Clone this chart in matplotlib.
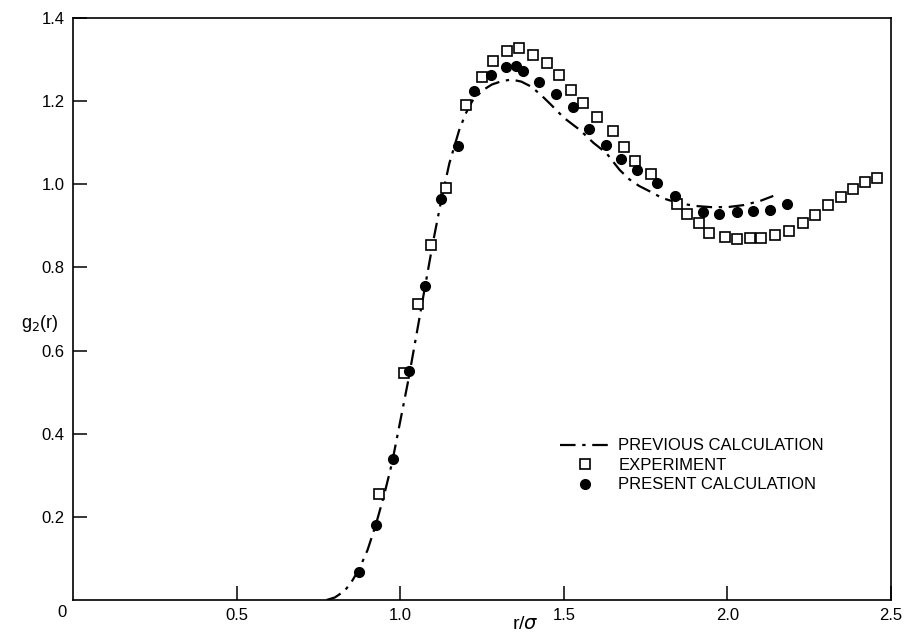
import matplotlib
matplotlib.use("Agg")
import matplotlib.pyplot as plt

plt.rcParams['font.family'] = ['Liberation Sans', 'DejaVu Sans']

# Previous calculation (dash-dot curve)
prev_r = [0.775, 0.80, 0.83, 0.85, 0.875, 0.90, 0.925, 0.95, 0.975, 1.00, 1.025,
          1.05, 1.075, 1.10, 1.125, 1.15, 1.18, 1.20, 1.22, 1.25, 1.28, 1.31,
          1.34, 1.37, 1.40, 1.43, 1.46, 1.50, 1.55, 1.59, 1.63, 1.67, 1.70,
          1.73, 1.77, 1.80, 1.85, 1.90, 1.95, 2.00, 2.05, 2.10, 2.14]
prev_g = [0.0, 0.006, 0.022, 0.042, 0.075, 0.12, 0.18, 0.25, 0.33, 0.43, 0.53,
          0.64, 0.75, 0.86, 0.96, 1.05, 1.13, 1.17, 1.20, 1.225, 1.24, 1.248,
          1.252, 1.247, 1.235, 1.215, 1.192, 1.16, 1.13, 1.10, 1.075, 1.035, 1.012,
          0.996, 0.98, 0.967, 0.955, 0.948, 0.945, 0.945, 0.950, 0.960, 0.972]

# Experiment (open squares)
exp_r = [0.936, 1.010, 1.053, 1.095, 1.140, 1.201, 1.250, 1.284, 1.326, 1.363,
         1.406, 1.449, 1.485, 1.522, 1.559, 1.601, 1.650, 1.684, 1.718, 1.767,
         1.846, 1.877, 1.913, 1.944, 1.993, 2.029, 2.069, 2.103, 2.145, 2.188,
         2.231, 2.268, 2.307, 2.347, 2.384, 2.421, 2.457]
exp_g = [0.256, 0.546, 0.711, 0.855, 0.991, 1.190, 1.257, 1.296, 1.320, 1.327,
         1.310, 1.291, 1.264, 1.228, 1.195, 1.161, 1.127, 1.089, 1.055, 1.024,
         0.952, 0.928, 0.906, 0.882, 0.873, 0.868, 0.870, 0.870, 0.877, 0.887,
         0.906, 0.925, 0.950, 0.969, 0.988, 1.005, 1.014]

# Present calculation (filled circles)
pres_r = [0.875, 0.926, 0.977, 1.027, 1.075, 1.125, 1.177, 1.226, 1.277, 1.323,
          1.354, 1.375, 1.424, 1.476, 1.528, 1.577, 1.629, 1.675, 1.724, 1.785,
          1.840, 1.925, 1.974, 2.029, 2.078, 2.130, 2.182]
pres_g = [0.067, 0.181, 0.339, 0.550, 0.755, 0.964, 1.091, 1.224, 1.262, 1.281,
          1.284, 1.272, 1.245, 1.216, 1.185, 1.132, 1.094, 1.062, 1.034, 1.002,
          0.971, 0.933, 0.928, 0.933, 0.935, 0.938, 0.952]

x_ticks = [0.5, 1.0, 1.5, 2.0, 2.5]
x_ticklabels = ['0.5', '1.0', '1.5', '2.0', '2.5']
y_ticks = [0.2, 0.4, 0.6, 0.8, 1.0, 1.2, 1.4]
y_ticklabels = ['0.2', '0.4', '0.6', '0.8', '1.0', '1.2', '1.4']

fig = plt.figure(figsize=(9.09, 6.36), dpi=100)
ax = fig.add_axes([0.0803, 0.0566, 0.9, 0.9151])

ax.plot(prev_r, prev_g, color='black', lw=1.6,
        dashes=(7, 3, 1.5, 3), label='PREVIOUS CALCULATION')
ax.plot(exp_r, exp_g, ls='none', marker='s', ms=6.5, mfc='white', mec='black',
        mew=1.2, label='EXPERIMENT')
ax.plot(pres_r, pres_g, ls='none', marker='o', ms=7, mfc='black', mec='black',
        label='PRESENT CALCULATION')

ax.set_xlim(0, 2.5)
ax.set_ylim(0, 1.4)
ax.set_xticks(x_ticks)
ax.set_xticklabels(x_ticklabels)
ax.set_yticks(y_ticks)
ax.set_yticklabels(y_ticklabels)
ax.tick_params(direction='in', length=10, width=1.1, labelsize=12,
               top=False, right=False, pad=6)
for s in ax.spines.values():
    s.set_linewidth(1.2)

ax.annotate('0', xy=(0, 0), xytext=(-8, -9), textcoords='offset points',
            ha='center', va='center', fontsize=12)

ax.text(-0.017, 0.475, 'g$_2$(r)', transform=ax.transAxes, ha='right', va='center',
        fontsize=13)
fig.text(0.578, 0.004, r'r/$\sigma$', ha='center', va='bottom', fontsize=14)

leg = ax.legend(loc='upper left', bbox_to_anchor=(0.585, 0.292), frameon=False,
                prop={'size': 12}, handlelength=3.0, handletextpad=0.5,
                labelspacing=0.27, borderpad=0)

fig.savefig('out.png', dpi=100)
